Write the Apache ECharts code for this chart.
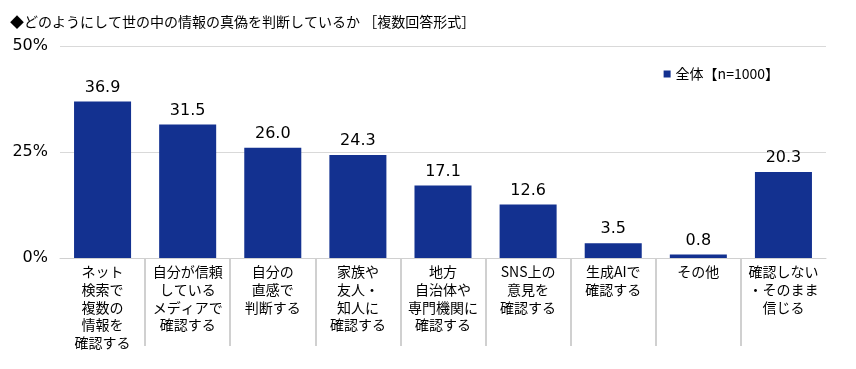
<!DOCTYPE html>
<html><head><meta charset="utf-8">
<script src="https://cdn.jsdelivr.net/npm/echarts@6/dist/echarts.min.js"></script>
<style>html,body{margin:0;padding:0;background:#fff}#c{width:856px;height:369px}</style>
</head><body><div id="c"></div>
<script>
const categories = [
  'ネット\n検索で\n複数の\n情報を\n確認する',
  '自分が信頼\nしている\nメディアで\n確認する',
  '自分の\n直感で\n判断する',
  '家族や\n友人・\n知人に\n確認する',
  '地方\n自治体や\n専門機関に\n確認する',
  'SNS上の\n意見を\n確認する',
  '生成AIで\n確認する',
  'その他',
  '確認しない\n・そのまま\n信じる'
];
const values = [36.9, 31.5, 26.0, 24.3, 17.1, 12.6, 3.5, 0.8, 20.3];
const seriesName = '全体【n=1000】';
const titleText = '◆どのようにして世の中の情報の真偽を判断しているか ［複数回答形式］';
const FONT = '"Noto Sans CJK JP", "Noto Sans", sans-serif';
const NUMFONT = '"DejaVu Sans", "Noto Sans CJK JP", sans-serif';

const W = 856, GL = 60, GR = 30;
const plotW = W - GL - GR;
const sepCats = categories.slice(0, categories.length - 1);
const grid2Right = W - (GL + plotW * sepCats.length / categories.length);

const chart = echarts.init(document.getElementById('c'));
chart.setOption({
  animation: false,
  textStyle: { fontFamily: FONT },
  title: { text: titleText, left: 5, top: 10, textStyle: { fontSize: 14, fontWeight: 'normal', color: '#000', fontFamily: FONT } },
  legend: {
    data: [seriesName], right: 72, top: 62, icon: 'rect', itemWidth: 7, itemHeight: 7, itemGap: 3,
    textStyle: { fontSize: 14, color: '#000', fontFamily: FONT }
  },
  grid: [
    { left: GL, right: GR, top: 46, bottom: 111, containLabel: false },
    { left: GL, right: grid2Right, top: 46, bottom: 111, containLabel: false }
  ],
  xAxis: [{
    type: 'category', data: categories, gridIndex: 0,
    axisLine: { show: true, lineStyle: { color: '#d0d0d0', width: 1 } },
    axisTick: { show: false },
    axisLabel: { interval: 0, fontSize: 14, color: '#000', lineHeight: 17.7, margin: 5, fontFamily: FONT }
  }, {
    type: 'category', data: sepCats, gridIndex: 1, position: 'bottom', offset: 6,
    axisLine: { show: false },
    axisLabel: { show: false },
    axisTick: { show: true, length: 88, interval: function (i) { return i > 0; }, lineStyle: { color: '#d0d0d0', width: 2 } }
  }],
  yAxis: [{
    type: 'value', min: 0, max: 50, interval: 25, gridIndex: 0,
    axisLabel: { formatter: '{value}%', fontSize: 16, color: '#000', margin: 12, fontFamily: NUMFONT },
    splitLine: { lineStyle: { color: '#d9d9d9' } },
    axisLine: { show: false }, axisTick: { show: false }
  }, {
    type: 'value', min: 0, max: 50, interval: 25, gridIndex: 1, show: false
  }],
  series: [{
    name: seriesName, type: 'bar', data: values, barCategoryGap: '33%',
    itemStyle: { color: '#133190' },
    label: { show: true, position: 'top', distance: 6, fontSize: 16, color: '#000', fontWeight: 'normal',
      formatter: p => p.value.toFixed(1), fontFamily: NUMFONT }
  }]
});
</script></body></html>
